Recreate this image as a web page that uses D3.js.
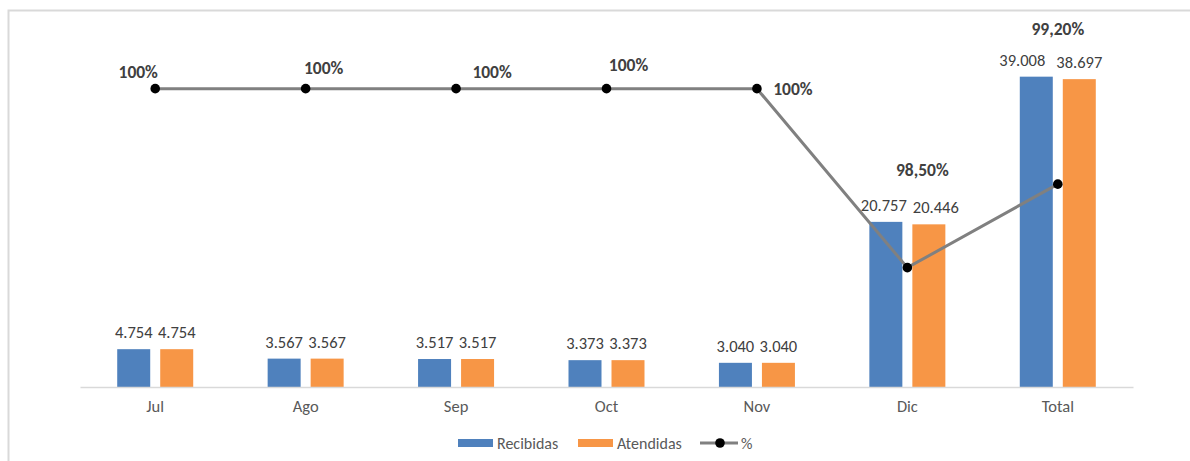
<!DOCTYPE html>
<html>
<head>
<meta charset="utf-8">
<script src="https://cdn.jsdelivr.net/npm/d3@7"></script>
<style>
  body { margin: 0; background: #fff; }
  svg { display: block; font-family: Calibri, Carlito, "Open Sans", sans-serif; }
</style>
</head>
<body>
<svg id="chart" width="1190" height="461"></svg>
<script>
// data
const months = ["Jul", "Ago", "Sep", "Oct", "Nov", "Dic", "Total"];
const recibidas = [4754, 3567, 3517, 3373, 3040, 20757, 39008];
const atendidas = [4754, 3567, 3517, 3373, 3040, 20446, 38697];
const porcentaje = [100, 100, 100, 100, 100, 98.5, 99.2];
const pctLabels = ["100%", "100%", "100%", "100%", "100%", "98,50%", "99,20%"];

// where each % label sits relative to its point (baseline)
const pctLabelOffset = [[-17, -11], [18, -15], [36, -11], [22, -18], [36, 6], [15, -92], [0, -149]];
// small horizontal nudges of the value labels
const recNudge = [0, 0, 0, 0, 0, -2, -14];
const atNudge = [0, 0, 0, 0, 0, 7, 0];

const width = 1190, height = 461;
const margin = { top: 29, right: 57, bottom: 74, left: 80 };
const blue = "#4f81bd", orange = "#f79646", gray = "#808080";

const svg = d3.select("#chart");

// outer frame (top and left edges visible)
svg.append("path")
  .attr("d", `M8.5,${height} V10.5 H${width}`)
  .attr("fill", "none")
  .attr("stroke", "#d9d9d9")
  .attr("stroke-width", 2);

const x = d3.scaleBand()
  .domain(months)
  .range([margin.left, width - margin.right]);

const y = d3.scaleLinear()
  .domain([0, 45000])
  .range([height - margin.bottom, margin.top]);

const y2 = d3.scaleLinear()
  .domain([97.5, 100.5])
  .range([height - margin.bottom, margin.top]);

const fmt = d3.formatLocale({ decimal: ",", thousands: ".", grouping: [3], currency: ["", ""] }).format(",d");

const barW = 33;
const series = [
  { name: "Recibidas", values: recibidas, color: blue, dx: -21.5, nudge: recNudge },
  { name: "Atendidas", values: atendidas, color: orange, dx: 21.5, nudge: atNudge }
];

series.forEach(s => {
  const g = svg.append("g");
  g.selectAll("rect")
    .data(s.values)
    .join("rect")
    .attr("x", (d, i) => x(months[i]) + x.bandwidth() / 2 + s.dx - barW / 2)
    .attr("y", d => y(d))
    .attr("width", barW)
    .attr("height", d => y(0) - y(d))
    .attr("fill", s.color);
  g.selectAll("text")
    .data(s.values)
    .join("text")
    .attr("x", (d, i) => x(months[i]) + x.bandwidth() / 2 + s.dx + s.nudge[i])
    .attr("y", d => y(d) - 11)
    .attr("text-anchor", "middle")
    .attr("font-size", 16.5)
    .attr("fill", "#404040")
    .text(d => fmt(d));
});

// x axis
const xAxis = svg.append("g")
  .attr("transform", `translate(0,${y(0)})`)
  .call(d3.axisBottom(x).tickSize(0).tickPadding(13));
xAxis.select(".domain").attr("stroke", "#d9d9d9").attr("stroke-width", 1.5);
xAxis.selectAll("text")
  .attr("font-size", 16.5)
  .attr("fill", "#595959")
  .style("font-family", "Calibri, Carlito, 'Open Sans', sans-serif");

// % line
const cx = (d, i) => x(months[i]) + x.bandwidth() / 2;
const line = d3.line().x(cx).y(d => y2(d));
svg.append("path")
  .datum(porcentaje)
  .attr("d", line)
  .attr("fill", "none")
  .attr("stroke", gray)
  .attr("stroke-width", 3);
svg.append("g").selectAll("circle")
  .data(porcentaje)
  .join("circle")
  .attr("cx", cx)
  .attr("cy", d => y2(d))
  .attr("r", 4.8)
  .attr("fill", "#000");
svg.append("g").selectAll("text")
  .data(porcentaje)
  .join("text")
  .attr("x", (d, i) => cx(d, i) + pctLabelOffset[i][0])
  .attr("y", (d, i) => y2(d) + pctLabelOffset[i][1])
  .attr("text-anchor", "middle")
  .attr("font-size", 17.5)
  .attr("font-weight", "bold")
  .attr("fill", "#404040")
  .text((d, i) => pctLabels[i]);

// legend
const lg = svg.append("g").attr("transform", "translate(0,443)");
const legendItems = [
  { name: "Recibidas", color: blue, x: 458, type: "rect" },
  { name: "Atendidas", color: orange, x: 578, type: "rect" },
  { name: "%", color: gray, x: 700, type: "line" }
];
legendItems.forEach(it => {
  if (it.type === "rect") {
    lg.append("rect").attr("x", it.x).attr("y", -4).attr("width", 35).attr("height", 8).attr("fill", it.color);
  } else {
    lg.append("line").attr("x1", it.x).attr("x2", it.x + 38).attr("y1", 0).attr("y2", 0)
      .attr("stroke", it.color).attr("stroke-width", 3);
    lg.append("circle").attr("cx", it.x + 20).attr("cy", 0).attr("r", 4.8).attr("fill", "#000");
  }
  lg.append("text")
    .attr("x", it.x + (it.type === "rect" ? 39 : 41))
    .attr("y", 5.5)
    .attr("font-size", 16)
    .attr("fill", "#595959")
    .text(it.name);
});
</script>
</body>
</html>
